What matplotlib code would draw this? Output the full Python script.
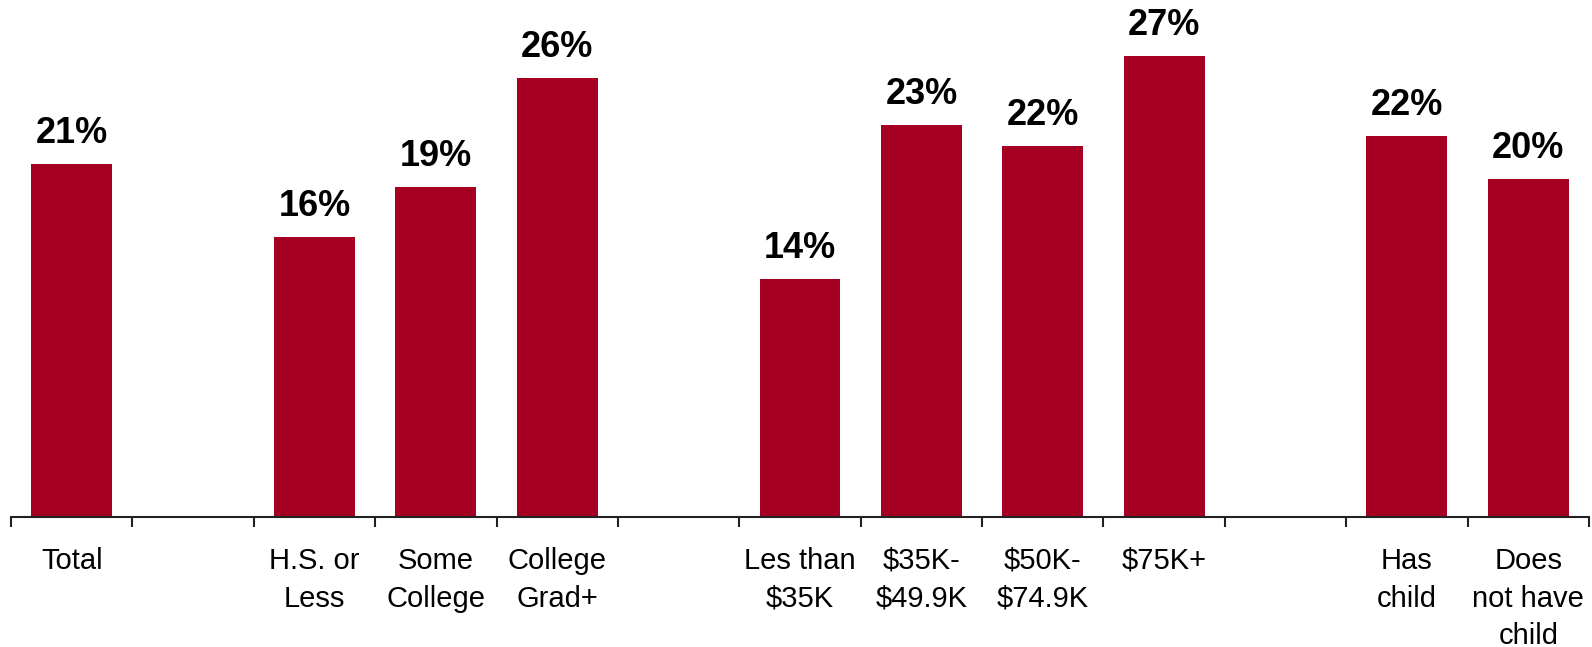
import matplotlib
matplotlib.use("Agg")
import matplotlib.pyplot as plt
import numpy as np

categories = ["Total", "", "H.S. or\nLess", "Some\nCollege", "College\nGrad+", "",
              "Les than\n\\$35K", "\\$35K-\n\\$49.9K", "\\$50K-\n\\$74.9K", "\\$75K+", "",
              "Has\nchild", "Does\nnot have\nchild"]
values = [20.76, None, 16.47, 19.41, 25.82, None, 14.0, 23.06, 21.82, 27.14, None, 22.41, 19.88]
value_labels = ["21%", "", "16%", "19%", "26%", "", "14%", "23%", "22%", "27%", "", "22%", "20%"]

BAR_COLOR = "#A50021"
plt.rcParams["font.family"] = ["Liberation Sans", "DejaVu Sans"]

W, H, DPI = 1592, 647, 100
fig = plt.figure(figsize=(W / DPI, H / DPI), dpi=DPI)
axis_y = 517
ax = fig.add_axes([11 / W, (H - axis_y) / H, (1589 - 11) / W, axis_y / H])

x = np.arange(len(categories))
for xi, v, lab in zip(x, values, value_labels):
    if v is None:
        continue
    ax.bar(xi, v, width=0.667, color=BAR_COLOR, zorder=2)
    ax.annotate(lab, (xi, v), xytext=(0, 15), textcoords="offset points",
                ha="center", va="baseline", fontsize=26, fontweight="bold", color="black")

ax.set_xlim(-0.5, len(categories) - 0.5)
ax.set_ylim(0, axis_y / 17.0)

for s in ["top", "right", "left"]:
    ax.spines[s].set_visible(False)
ax.spines["bottom"].set_linewidth(1.5)
ax.spines["bottom"].set_color("#222222")
ax.set_yticks([])

ax.set_xticks(np.arange(len(categories) + 1) - 0.5)
ax.set_xticklabels([])
ax.tick_params(axis="x", which="major", direction="out", length=7.5, width=1.5, color="#222222")
ax.set_xticks(x, minor=True)
ax.set_xticklabels(categories, minor=True, fontsize=21, linespacing=1.44)
ax.tick_params(axis="x", which="minor", length=0, pad=21.5)

fig.savefig("out.png", dpi=DPI)
